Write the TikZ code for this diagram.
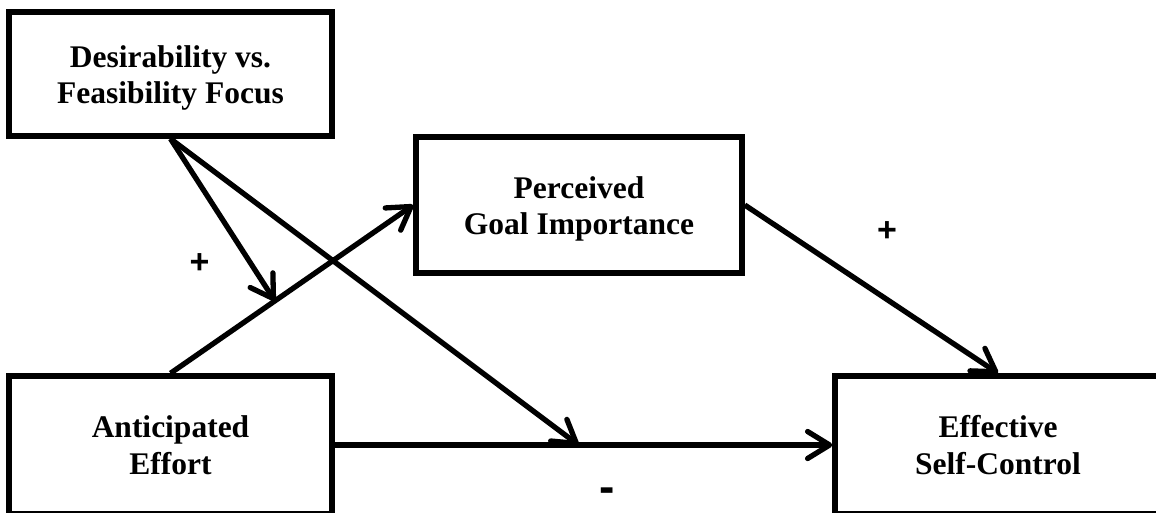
\documentclass[tikz,border=0pt]{standalone}
\usepackage{fontspec}
\setmainfont{Liberation Serif}
\newfontfamily\labfont{Liberation Sans}
\usetikzlibrary{arrows.meta,calc}
\tikzset{
  box/.style={draw, line width=5.5pt, inner sep=0pt, align=center,
    font=\bfseries\fontsize{31.5}{36.5}\selectfont},
  arr/.style={line width=5.3pt, -{Straight Barb[length=22pt,width=27pt,round]}},
  sign/.style={inner sep=0pt, font=\labfont\bfseries\fontsize{34}{34}\selectfont},
}
\newcommand{\topstrut}{\rule{0pt}{30pt}}
\begin{document}
\begin{tikzpicture}[x=1pt,y=-1pt]
\useasboundingbox (0,0) rectangle (1156,512);
\clip (0,0) rectangle (1156,512);
\node[box, minimum width=323pt, minimum height=124pt] (des) at (170.5,74) {\topstrut Desirability vs.\\Feasibility Focus};
\node[box, minimum width=326pt, minimum height=136pt] (per) at (579,205) {\topstrut Perceived\\Goal Importance};
\node[box, minimum width=323pt, minimum height=138pt] (ant) at (170.5,445) {Anticipated\\Effort};
\node[box, minimum width=326pt, minimum height=138pt] (eff) at (998,445) {Effective\\Self-Control};
\coordinate (m1) at ($(ant.north)!0.43!(per.west)$);
\coordinate (m2) at ($(ant.east)!0.49!(eff.west)$);
\draw[arr] (ant.north) -- (per.west);
\draw[arr] (ant.east) -- (eff.west);
\draw[arr] (per.east) -- (eff.north);
\draw[arr] (des.south) -- (m1);
\draw[arr] (des.south) -- (m2);
\node[sign] (p1) at (199.5,264) {+};
\node[sign] (p2) at (887,232) {+};
\node[sign, font=\labfont\bfseries\fontsize{46}{46}\selectfont] (mn) at (607,495) {-};
\end{tikzpicture}
\end{document}
